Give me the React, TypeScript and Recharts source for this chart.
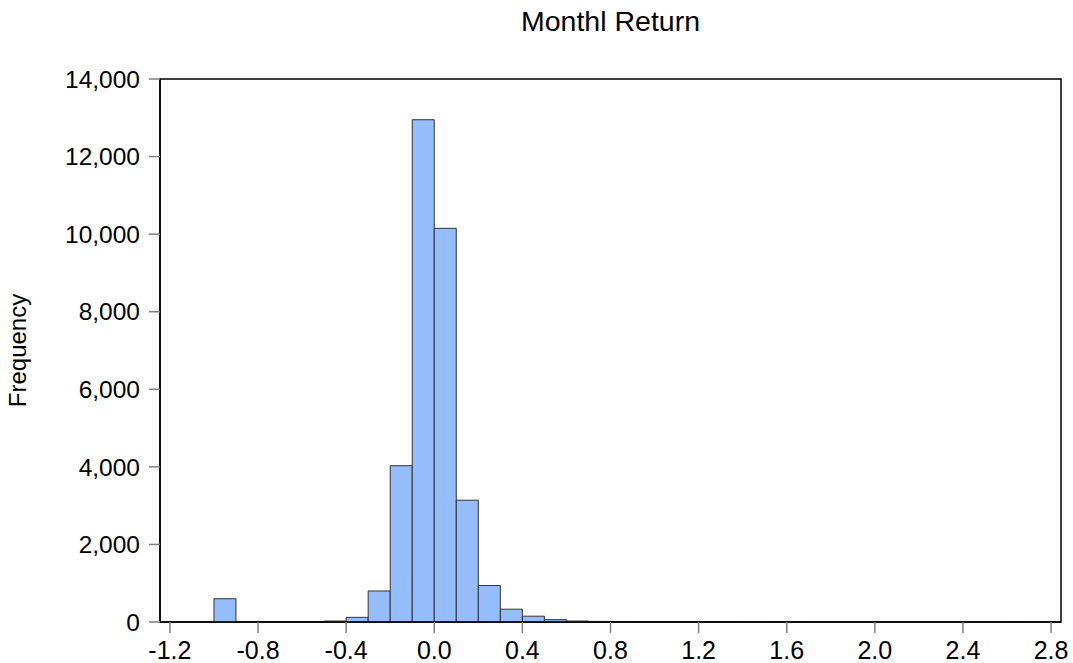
import React from 'react'
import {
  ComposedChart,
  Bar,
  XAxis,
  YAxis,
  ReferenceArea,
} from 'recharts'

// histogram bins of width 0.1, keyed by bin centre
const binCenters = [
  -0.95, -0.75, -0.65, -0.55, -0.45, -0.35, -0.25, -0.15, -0.05, 0.05, 0.15,
  0.25, 0.35, 0.45, 0.55, 0.65, 0.75, 0.85, 0.95, 1.05, 1.15, 1.25, 1.35,
  1.55, 1.65, 2.65,
]
const counts = [
  600, 3, 5, 10, 25, 120, 800, 4030, 12950, 10150, 3140, 940, 330, 150, 60, 25,
  15, 12, 10, 4, 3, 3, 5, 4, 4, 2,
]
const xTicks = [-1.2, -0.8, -0.4, 0.0, 0.4, 0.8, 1.2, 1.6, 2.0, 2.4, 2.8]
const yTicks = [0, 2000, 4000, 6000, 8000, 10000, 12000, 14000]

const X_DOMAIN: [number, number] = [-1.245, 2.845]
const FONT = 'Liberation Sans, Arial, sans-serif'

const data = binCenters.map((x, i) => ({ x, count: counts[i] }))

export default function App() {
  return (
    <div style={{ position: 'absolute', left: 0, top: 0, width: 1073, height: 663, background: '#fff', fontFamily: FONT }}>
      <div
        style={{
          position: 'absolute',
          left: 160,
          width: 901,
          top: 4.5,
          textAlign: 'center',
          fontSize: 28.5,
          color: '#000',
        }}
      >
        Monthl Return
      </div>
      <ComposedChart
        width={1073}
        height={663}
        data={data}
        margin={{ top: 79, right: 12, bottom: 0, left: 0 }}
        barGap={0}
      >
        <XAxis
          type="number"
          dataKey="x"
          domain={X_DOMAIN}
          ticks={xTicks}
          allowDataOverflow
          tickFormatter={(v: number) => v.toFixed(1)}
          tick={{ fill: '#000', fontSize: 25, fontFamily: FONT }}
          tickLine={{ stroke: '#808080', strokeWidth: 1.5 }}
          axisLine={{ stroke: '#000', strokeWidth: 1.5 }}
          tickSize={11}
          tickMargin={8}
          height={41}
          interval={0}
        />
        <YAxis
          type="number"
          domain={[0, 14000]}
          ticks={yTicks}
          tickFormatter={(v: number) => v.toLocaleString('en-US')}
          tick={{ fill: '#000', fontSize: 24.5, fontFamily: FONT }}
          tickLine={{ stroke: '#808080', strokeWidth: 1.5 }}
          axisLine={{ stroke: '#000', strokeWidth: 1.5 }}
          tickSize={11}
          tickMargin={9}
          width={160}
          interval={0}
          label={{
            value: 'Frequency',
            angle: -90,
            position: 'insideLeft',
            offset: 17,
            style: { fill: '#000', fontSize: 24, fontFamily: FONT, textAnchor: 'middle' },
          }}
        />
        <ReferenceArea
          x1={X_DOMAIN[0]}
          x2={X_DOMAIN[1]}
          y1={0}
          y2={14000}
          fill="none"
          stroke="#000"
          strokeWidth={1.5}
          ifOverflow="visible"
        />
        <Bar
          dataKey="count"
          barSize={22}
          fill="#95BDFB"
          stroke="#333"
          strokeWidth={1}
          isAnimationActive={false}
        />
      </ComposedChart>
    </div>
  )
}
